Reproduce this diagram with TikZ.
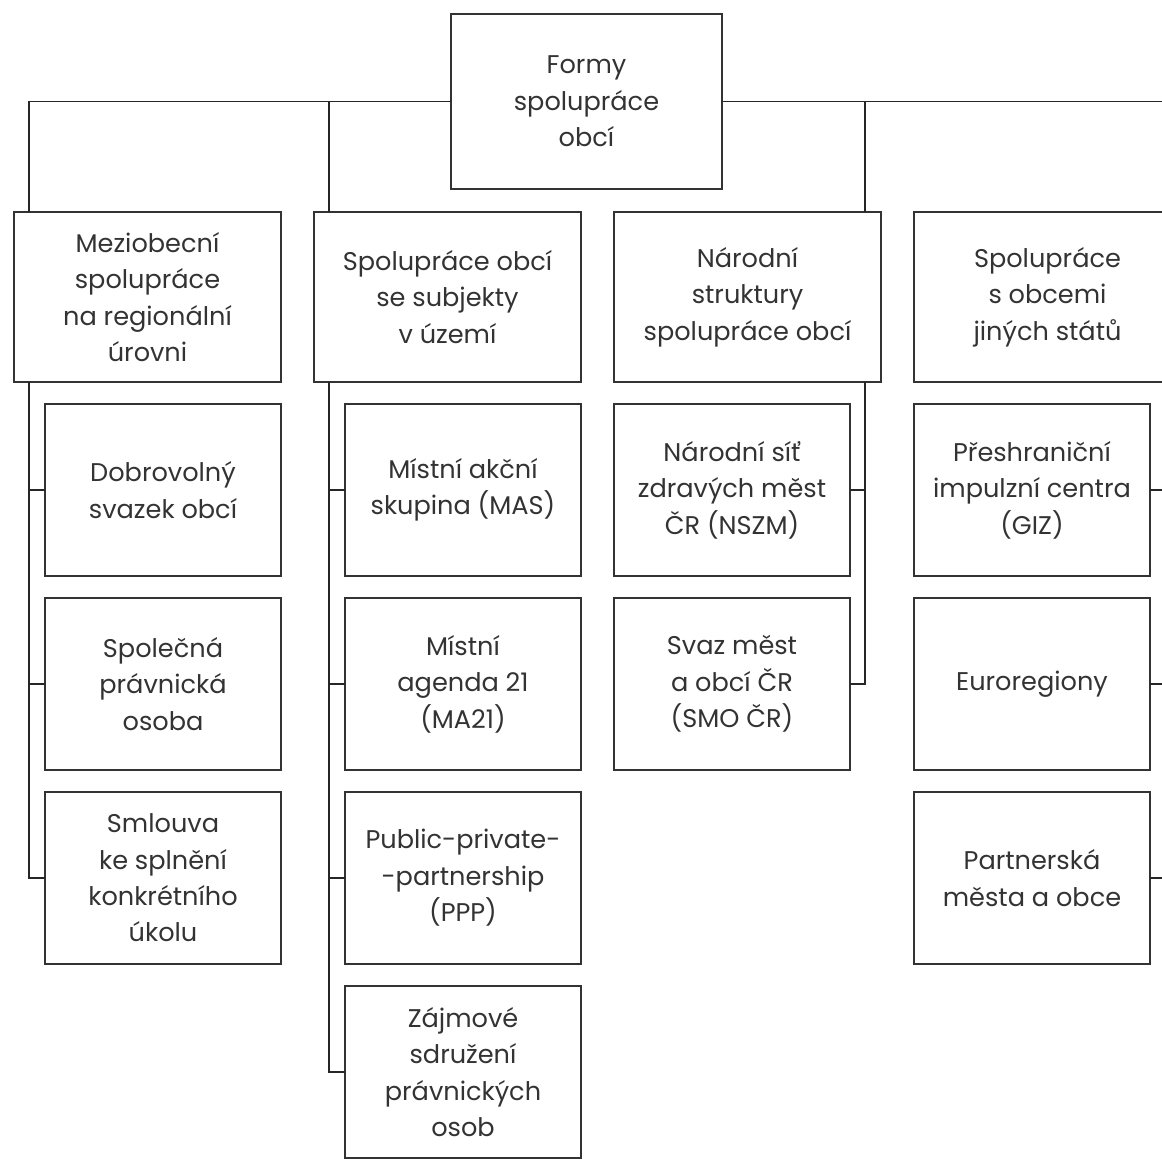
\documentclass[tikz,border=0pt]{standalone}
\usepackage{fontspec}
\setmainfont{Poppins}
\usetikzlibrary{positioning}

\tikzset{
  box/.style={draw=black!80, line width=0.9pt, text=black!80, align=center,
    inner sep=2pt, outer sep=0pt, font=\fontsize{12.8}{18.2}\selectfont},
  head/.style={box, minimum width=133.5pt, minimum height=85pt},
  item/.style={box, minimum width=118pt, minimum height=86pt},
  link/.style={draw=black!85, line width=0.9pt},
}

\begin{document}
\begin{tikzpicture}[x=0.5pt, y=-0.5pt, node distance=16.5pt]

  \useasboundingbox (0,0) rectangle (1162,1158);
  \clip (0,0) rectangle (1162,1158);

  \node (forms) [box, minimum width=135.5pt, minimum height=87.5pt] at (586.5,101.5) {Formy\\spolupráce\\obcí};

  \node (h1) [head] at (147.5,297) {Meziobecní\\spolupráce\\na regionální\\úrovni};
  \node (h2) [head, right=of h1] {Spolupráce obcí\\se subjekty\\v území};
  \node (h3) [head, right=of h2] {Národní\\struktury\\spolupráce obcí};
  \node (h4) [head, right=of h3] {Spolupráce\\s obcemi\\jiných států};

  \node (d11) [item, below=11pt of h1.south east, anchor=north east] {Dobrovolný\\svazek obcí};
  \node (d12) [item, below=11pt of d11] {Společná\\právnická\\osoba};
  \node (d13) [item, below=11pt of d12] {Smlouva\\ke splnění\\konkrétního\\úkolu};

  \node (d21) [item, below=11pt of h2.south east, anchor=north east] {Místní akční\\skupina (MAS)};
  \node (d22) [item, below=11pt of d21] {Místní\\agenda 21\\(MA21)};
  \node (d23) [item, below=11pt of d22] {Public-private-\\-partnership\\(PPP)};
  \node (d24) [item, below=11pt of d23] {Zájmové\\sdružení\\právnických\\osob};

  \node (d31) [item, below=11pt of h3.south west, anchor=north west] {Národní síť\\zdravých měst\\ČR (NSZM)};
  \node (d32) [item, below=11pt of d31] {Svaz měst\\a obcí ČR\\(SMO ČR)};

  \node (d41) [item, below=11pt of h4.south west, anchor=north west] {Přeshraniční\\impulzní centra\\(GIZ)};
  \node (d42) [item, below=11pt of d41] {Euroregiony};
  \node (d43) [item, below=11pt of d42] {Partnerská\\města a obce};

  % spines
  \coordinate (s1) at ([xshift=7.5pt]h1.north west);
  \coordinate (s2) at ([xshift=7.5pt]h2.north west);
  \coordinate (s3) at ([xshift=-8pt]h3.north east);
  \coordinate (s4) at ([xshift=-8pt]h4.north east);

  \draw[link] (forms.west) -| (s1);
  \draw[link] (forms.west) -| (s2);
  \draw[link] (forms.east) -| (s3);
  \draw[link] (forms.east) -| (s4);

  \foreach \n in {d11,d12,d13} \draw[link] (h1.south -| s1) |- (\n.west);
  \foreach \n in {d21,d22,d23,d24} \draw[link] (h2.south -| s2) |- (\n.west);
  \foreach \n in {d31,d32} \draw[link] (h3.south -| s3) |- (\n.east);
  \foreach \n in {d41,d42,d43} \draw[link] (h4.south -| s4) |- (\n.east);

\end{tikzpicture}
\end{document}
